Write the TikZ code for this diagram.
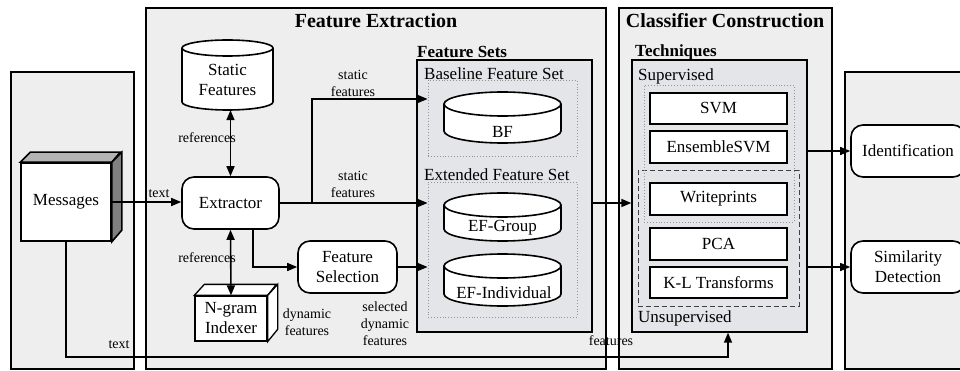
\documentclass[tikz,border=0pt]{standalone}
\usepackage{fontspec}
\setmainfont{Liberation Serif}
\usetikzlibrary{arrows.meta,calc}
\definecolor{panel}{HTML}{EEEEEE}
\definecolor{innerfill}{HTML}{E3E5E8}
\definecolor{topface}{HTML}{B4B4B4}
\definecolor{sideface}{HTML}{808080}
\newcommand{\fsz}[2]{\fontsize{#1}{#2}\selectfont}
\newcommand{\cylshape}[5]{%
  \pgfmathsetmacro\rxa{(#3-#1)/2}%
  \draw[line width=1.6pt, fill=white] (#1,-#2-#5) -- (#1,-#4+#5)
     arc[start angle=180,end angle=360,x radius=\rxa pt,y radius=#5 pt]
     -- (#3,-#2-#5)
     arc[start angle=0,end angle=180,x radius=\rxa pt,y radius=#5 pt] -- cycle;
  \draw[line width=1.6pt] (#1,-#2-#5)
     arc[start angle=180,end angle=360,x radius=\rxa pt,y radius=#5 pt];
}
\tikzset{
  panelbox/.style={draw, line width=1.2pt, fill=panel},
  setbox/.style={draw, line width=1.3pt, fill=innerfill, inner sep=0},
  dotbox/.style={draw=gray!85, dotted, line width=0.9pt, inner sep=0},
  dashbox/.style={draw=black!75, dash pattern=on 5pt off 3pt, line width=1pt, inner sep=0},
  procbox/.style={draw, line width=1.6pt, fill=white, rounded corners=12pt, font=\fsz{17}{20}, align=center, inner sep=0},
  techbox/.style={draw, line width=1.6pt, fill=white, font=\fsz{17}{20}, inner sep=0, minimum width=137pt},
  plainbox/.style={draw, line width=1.6pt, fill=white, font=\fsz{17}{20}, align=center, inner sep=0},
  hold/.style={inner sep=0},
  conn/.style={line width=1.4pt, -{Triangle[length=10pt,width=8pt]}},
  dconn/.style={line width=1.6pt, {Triangle[length=10pt,width=8pt]}-{Triangle[length=10pt,width=8pt]}},
  lbl/.style={font=\fsz{14}{17}, align=center, inner sep=0},
  title/.style={font=\fsz{20}{24}\bfseries, inner sep=0},
  subtitle/.style={font=\fsz{17}{20}\bfseries, inner sep=0, anchor=west},
  settitle/.style={font=\fsz{17}{20}, inner sep=0, anchor=west},
  celltext/.style={font=\fsz{17}{20}, align=center, inner sep=0},
}
\begin{document}
\begin{tikzpicture}[x=1pt,y=1pt]
\useasboundingbox (0,0) rectangle (960,-371);
% panels
\draw[panelbox] (11,-72) rectangle (134,-369);
\draw[panelbox] (146,-8) rectangle (606,-369);
\draw[panelbox] (619,-8) rectangle (832,-369);
\draw[panelbox] (845,-72) rectangle (975,-369);
\node[title] (tfe) at (376,-21) {Feature Extraction};
\node[title] (tcc) at (725,-21) {Classifier Construction};
% feature sets
\node[setbox, minimum width=175pt, minimum height=272pt] (fsets) at (504.5,-196) {};
\node[subtitle] (tfs) at (417,-52) {Feature Sets};
\node[settitle] (tbase) at (424,-74) {Baseline Feature Set};
\node[settitle] (text2) at (424,-175) {Extended Feature Set};
\node[dotbox, minimum width=149pt, minimum height=76pt] (bfbox) at (502.5,-118) {};
\node[dotbox, minimum width=149pt, minimum height=135pt] (efbox) at (502.5,-249.5) {};
% techniques
\node[setbox, minimum width=175pt, minimum height=272pt] (tech) at (719.5,-196) {};
\node[subtitle] (ttech) at (635,-52) {Techniques};
\node[settitle] (tsup) at (638,-76) {Supervised};
\node[settitle] (tunsup) at (638,-318) {Unsupervised};
\node[dashbox, minimum width=161pt, minimum height=135pt] (unsbox) at (718.5,-238.5) {};
\node[dotbox, minimum width=150pt, minimum height=137pt] (supbox) at (719,-153.5) {};
\node[techbox, minimum height=31pt] (svm) at (718.5,-108.5) {SVM};
\node[techbox, minimum height=32pt] (ens) at (718.5,-147) {EnsembleSVM};
\node[techbox, minimum height=32pt] (wp) at (718.5,-199) {Writeprints};
\node[techbox, minimum height=32pt] (pca) at (718.5,-244) {PCA};
\node[techbox, minimum height=31pt] (kl) at (718.5,-282.5) {K-L Transforms};
% cylinders
\cylshape{182}{40}{273}{110}{8}
\node[hold, minimum width=91pt, minimum height=70pt] (sf) at (227.5,-75) {};
\node[celltext] (sft) at (227.5,-80) {Static\\Features};
\cylshape{444}{92}{561}{143}{12}
\node[hold, minimum width=117pt, minimum height=51pt] (bf) at (502.5,-117.5) {};
\node[celltext] (bft) at (502.5,-132) {BF};
\cylshape{444}{193}{561}{241}{12}
\node[hold, minimum width=117pt, minimum height=48pt] (efg) at (502.5,-217) {};
\node[celltext] (efgt) at (502.5,-228) {EF-Group};
\cylshape{444}{254}{561}{306}{12}
\node[hold, minimum width=117pt, minimum height=52pt] (efi) at (502.5,-280) {};
\node[celltext] (efit) at (504,-293) {EF-Individual};
% messages box
\node[plainbox, minimum width=90pt, minimum height=78pt] (msg) at (66,-202) {Messages};
\draw[line width=1.6pt, fill=topface] (msg.north west) -- ++(10,10) -- ++(90,0) -- (msg.north east) -- cycle;
\draw[line width=1.6pt, fill=sideface] (msg.north east) -- ++(10,10) -- ++(0,-78) -- (msg.south east) -- cycle;
% n-gram indexer
\node[plainbox, line width=1.3pt, minimum width=72pt, minimum height=45pt] (ng) at (231,-318.5) {N-gram\\Indexer};
\draw[line width=1.3pt, fill=white] (ng.north west) -- ++(10,11) -- ++(72,0) -- (ng.north east) -- cycle;
\draw[line width=1.3pt, fill=white] (ng.north east) -- ++(10,11) -- ++(0,-45) -- (ng.south east) -- cycle;
% process boxes
\node[procbox, minimum width=97pt, minimum height=52pt] (ext) at (230.5,-203) {Extractor};
\node[procbox, minimum width=99pt, minimum height=52pt] (fs) at (347.5,-267) {Feature\\Selection};
\node[procbox, minimum width=114pt, minimum height=52pt] (id) at (908,-151) {Identification};
\node[procbox, minimum width=114pt, minimum height=52pt] (sim) at (908,-267) {Similarity\\Detection};
% labels
\node[lbl] (l1) at (159,-194) {text};
\node[lbl] (l2) at (207,-138) {references};
\node[lbl] (l3) at (207,-258) {references};
\node[lbl] (l4) at (353,-83) {static\\features};
\node[lbl] (l5) at (353,-184) {static\\features};
\node[lbl] (l6) at (307,-322.5) {dynamic\\features};
\node[lbl] (l7) at (385,-323.5) {selected\\dynamic\\features};
\node[lbl] (l8) at (119,-345) {text};
\node[lbl] (l9) at (611,-341) {features};
% connectors
\coordinate (br) at (312,-203);
\coordinate (br2) at (312,-99);
\coordinate (dsel) at (253,-229);
\coordinate (tb) at (728,-357);
\draw[conn] (msg.east) -- (ext.west |- msg.east);
\draw[dconn] (ext.north) -- (ext.north |- sf.south);
\draw[dconn] (ext.south) -- (ng.north);
\draw[conn] (ext.east) -- (efbox.west |- ext.east);
\draw[conn] (br) -- (br2) -- (bfbox.west |- br2);
\draw[conn] (dsel) |- (fs.west);
\draw[conn] (fs.east) -- (efbox.west |- fs.east);
\draw[conn] (fsets.east |- ext.east) -- (tech.west |- ext.east);
\draw[conn] (tech.east |- id.west) -- (id.west);
\draw[conn] (tech.east |- sim.west) -- (sim.west);
\draw[conn] (msg.south) |- (tb) -- (tb |- tech.south);
\end{tikzpicture}
\end{document}
